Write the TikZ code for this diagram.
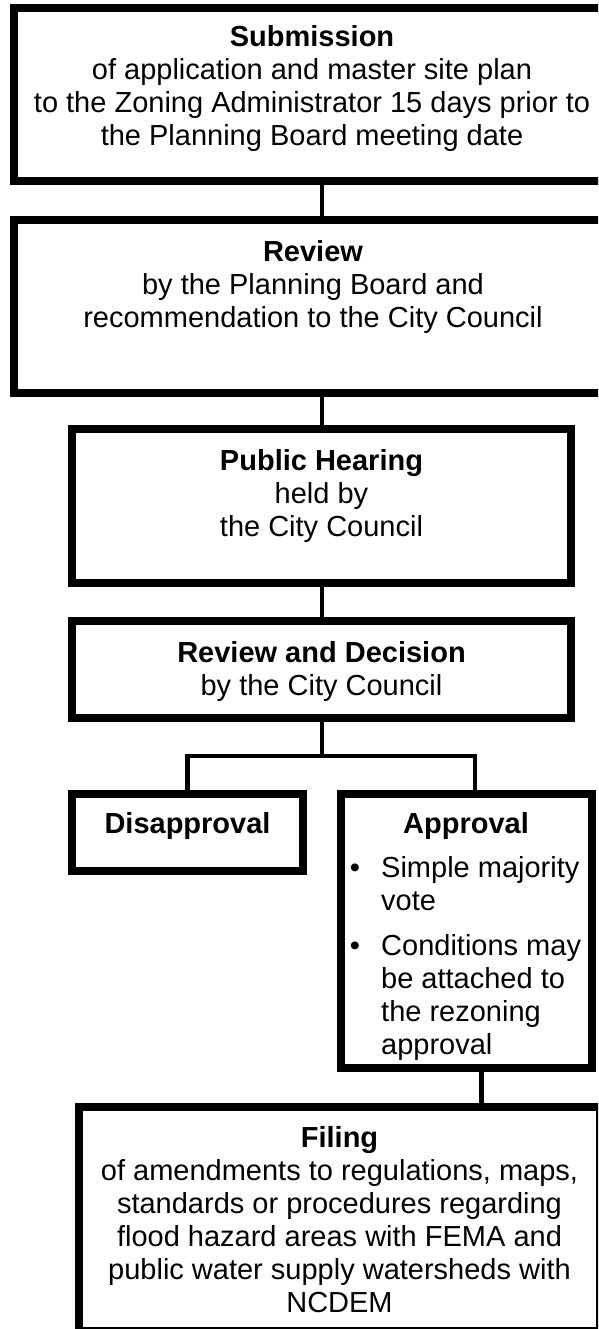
\documentclass[tikz,border=0pt]{standalone}
\usepackage{fontspec}
\setmainfont{Liberation Sans}
\begin{document}
\begin{tikzpicture}[x=1pt,y=-1pt,
  box/.style={draw=black,line width=8pt,rectangle,inner sep=0pt,fill=white},
  conn/.style={draw=black,line width=4.6pt},
  txt/.style={font=\fontsize{29}{33}\selectfont,align=center,anchor=base,inner sep=0pt},
  lst/.style={font=\fontsize{29}{33}\selectfont,align=left,anchor=base west,inner sep=0pt},
  ]
\useasboundingbox (0,0) rectangle (598,1329);
\fill[white] (0,0) rectangle (598,1329);
\begin{scope}
\clip (0,0) rectangle (598,1329);
% boxes
\node[box,minimum width=596pt,minimum height=173pt] (b1) at (312,94.5) {};
\node[box,minimum width=596pt,minimum height=173pt] (b2) at (312,306.5) {};
\node[box,minimum width=499pt,minimum height=154pt] (b3) at (321.5,506) {};
\node[box,minimum width=499pt,minimum height=97pt] (b4) at (321.5,669.5) {};
\node[box,minimum width=231pt,minimum height=77pt] (b5) at (187.5,832.5) {};
\node[box,minimum width=251pt,minimum height=274pt] (b6) at (466.5,931) {};
\node[box,minimum width=521pt,minimum height=224pt] (b7) at (339.5,1219) {};
% texts (anchor base = baseline of the last line)
\node[txt] (t1) at (312,146) {{\bfseries Submission}\\of application and master site plan\\to the Zoning Administrator 15 days prior to\\the Planning Board meeting date};
\node[txt] (t2) at (313,327) {{\bfseries Review}\\by the Planning Board and\\recommendation to the City Council};
\node[txt] (t3) at (321.5,536) {{\bfseries Public Hearing}\\held by\\the City Council};
\node[txt] (t4) at (321.5,695) {{\bfseries Review and Decision}\\by the City Council};
\node[txt] (t5) at (187.5,833) {\bfseries Disapproval};
\node[txt] (t6) at (466,833) {\bfseries Approval};
\node[txt] (u1) at (355,877) {\textbullet};
\node[txt] (u2) at (355,955) {\textbullet};
\node[lst] (t6b) at (381,1054) {Simple majority\\vote\\[12pt]Conditions may\\be attached to\\the rezoning\\approval};
\node[txt] (t7) at (339.5,1312) {{\bfseries Filing}\\of amendments to regulations, maps,\\standards or procedures regarding\\flood hazard areas with FEMA and\\public water supply watersheds with\\NCDEM};
% connectors
\coordinate (cx) at (322,0);
\coordinate (jl) at (187.5,756);
\coordinate (jr) at (475,756);
\coordinate (fx) at (481.5,0);
\draw[conn] (cx |- b1.south) -- (cx |- b2.north);
\draw[conn] (cx |- b2.south) -- (cx |- b3.north);
\draw[conn] (cx |- b3.south) -- (cx |- b4.north);
\draw[conn] (cx |- b4.south) -- (cx |- jl);
\draw[conn,line join=miter] (jl |- b5.north) -- (jl) -- (jr) -- (jr |- b6.north);
\draw[conn] (fx |- b6.south) -- (fx |- b7.north);
\end{scope}
\end{tikzpicture}
\end{document}
